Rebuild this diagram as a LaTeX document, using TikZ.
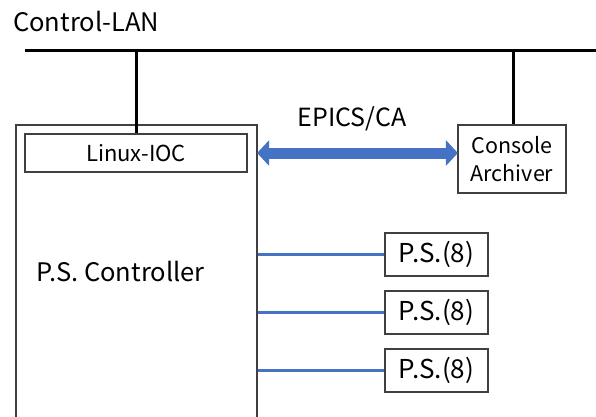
\documentclass[tikz,border=0pt]{standalone}
\usepackage{fontspec}
\setmainfont{Noto Sans CJK JP}
\usetikzlibrary{arrows.meta}
\definecolor{linkblue}{HTML}{4472C4}
\definecolor{edge}{HTML}{404040}
\begin{document}
\begin{tikzpicture}[x=1pt,y=-1pt,
  box/.style={draw=edge,line width=1.2pt,inner sep=0pt,align=center},
  bus/.style={line width=3pt,black},
  wire/.style={line width=2.6pt,linkblue},
  psbox/.style={box,minimum width=103pt,minimum height=43pt,font=\fontsize{26}{28}\selectfont}]
\useasboundingbox (0,0) rectangle (596,416);
\clip (0,0) rectangle (596,416);
% network bus
\node[anchor=west,inner sep=0pt,font=\fontsize{25.5}{28}\selectfont] (lanlabel) at (13,22) {Control-LAN};
\coordinate (lanL) at (25,50);
\coordinate (lanR) at (600,50);
\draw[bus] (lanL) -- (lanR);
% controller crate
\node[box,minimum width=241pt,minimum height=305pt] (ctrl) at (136.5,277.5) {};
\node[box,minimum width=222pt,minimum height=38pt,font=\fontsize{22}{24}\selectfont] (ioc) at (136,153) {Linux-IOC};
\node[anchor=west,inner sep=0pt,font=\fontsize{25.5}{28}\selectfont] (ctrltext) at (36,272) {P.S. Controller};
% console
\node[box,minimum width=108pt,minimum height=68pt,font=\fontsize{21.5}{28}\selectfont] (cons) at (512,159) {Console\\Archiver};
\coordinate (tapA) at (136,50);
\coordinate (tapB) at (513,50);
\draw[bus] (tapA) -- (ioc.north -| tapA);
\draw[bus] (tapB) -- (cons.north -| tapB);
% channel access link
\draw[linkblue,line width=11pt,{Triangle[width=25pt,length=12pt]}-{Triangle[width=25pt,length=12pt]},shorten <=-0.5pt,shorten >=-0.5pt] (ctrl.east |- ioc) -- (cons.west |- ioc);
\node[inner sep=0pt,font=\fontsize{25}{28}\selectfont] (epics) at (352,119) {EPICS/CA};
% power supplies
\node[psbox] (ps1) at (436.5,254.5) {P.S.(8)};
\node[psbox] (ps2) at (436.5,312.5) {P.S.(8)};
\node[psbox] (ps3) at (436.5,370.5) {P.S.(8)};
\foreach \p in {ps1,ps2,ps3}
  \draw[wire] (ctrl.east |- \p) -- (\p.west);
\end{tikzpicture}
\end{document}
